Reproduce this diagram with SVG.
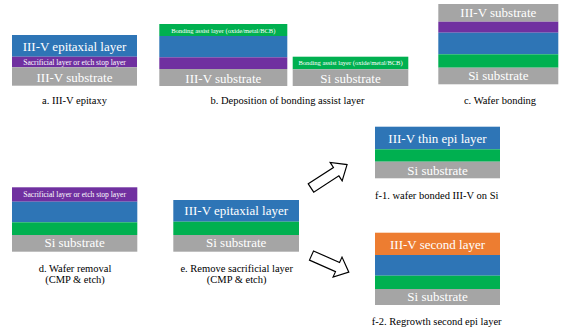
<svg xmlns="http://www.w3.org/2000/svg" width="562" height="333" viewBox="0 0 562 333">
<style>
.bl{fill:#2E75B6}.pu{fill:#7030A0}.gr{fill:#00B050}.gy{fill:#A5A5A5}.or{fill:#ED7D31}
text{font-family:"Liberation Serif","Times New Roman",serif;text-anchor:middle}
.L{font-size:13px;fill:#FFFFFF}
.S{font-size:7.6px;fill:#FFFFFF}
.B{font-size:6.5px;fill:#FFFFFF}
.C{font-size:10.5px;fill:#000000}
.arrow{fill:#FFFFFF;stroke:#000000;stroke-width:1.2;stroke-linejoin:miter}
</style>
<defs>
<polygon id="arr" points="0,-5 30,-5 30,-11 43,0 30,11 30,5 0,5"/>
</defs>
<rect width="562" height="333" fill="#FFFFFF"/>

<g id="panel-a">
<rect class="bl" x="12" y="35" width="125" height="21.7"/>
<rect class="pu" x="12" y="56.7" width="125" height="10.6"/>
<rect class="gy" x="12" y="67.3" width="125" height="18.4"/>
<text class="L" x="74.5" y="50.5">III-V epitaxial layer</text>
<text class="S" x="74.5" y="64.8">Sacrificial layer or etch stop layer</text>
<text class="L" x="74.5" y="82.3">III-V substrate</text>
<text class="C" x="74.5" y="103.8">a. III-V  epitaxy</text>
</g>

<g id="panel-b">
<rect class="gr" x="159.3" y="24" width="128" height="12"/>
<rect class="bl" x="159.3" y="36" width="128" height="21.3"/>
<rect class="pu" x="159.3" y="57.3" width="128" height="11.7"/>
<rect class="gy" x="159.3" y="69" width="128" height="17"/>
<text class="B" x="223.3" y="32.8">Bonding assist layer (oxide/metal/BCB)</text>
<text class="L" x="223.3" y="82.7">III-V substrate</text>
<rect class="gr" x="292.7" y="56.7" width="115.6" height="12.6"/>
<rect class="gy" x="292.7" y="69.3" width="115.6" height="16.7"/>
<text class="B" x="350.5" y="65.3">Bonding assist layer (oxide/metal/BCB)</text>
<text class="L" x="350.5" y="82.7">Si substrate</text>
<text class="C" x="287.5" y="103.8">b. Deposition of bonding assist layer</text>
</g>

<g id="panel-c">
<rect class="gy" x="438.3" y="4" width="120" height="17.7"/>
<rect class="pu" x="438.3" y="21.7" width="120" height="11"/>
<rect class="bl" x="438.3" y="32.7" width="120" height="21.6"/>
<rect class="gr" x="438.3" y="54.3" width="120" height="13.4"/>
<rect class="gy" x="438.3" y="67.7" width="120" height="16.6"/>
<text class="L" x="498.3" y="17">III-V substrate</text>
<text class="L" x="498.3" y="80.3">Si substrate</text>
<text class="C" x="500" y="103.5">c. Wafer bonding</text>
</g>

<g id="panel-d">
<rect class="pu" x="12" y="187.3" width="125.3" height="14.4"/>
<rect class="bl" x="12" y="201.7" width="125.3" height="20.6"/>
<rect class="gr" x="12" y="222.3" width="125.3" height="12.7"/>
<rect class="gy" x="12" y="235" width="125.3" height="16.7"/>
<text class="S" x="74.6" y="197.3">Sacrificial layer or etch stop layer</text>
<text class="L" x="74.6" y="247">Si substrate</text>
<text class="C" x="75" y="271.7">d. Wafer removal</text>
<text class="C" x="75" y="283.2">(CMP &amp; etch)</text>
</g>

<g id="panel-e">
<rect class="bl" x="173.3" y="200" width="125.7" height="21.7"/>
<rect class="gr" x="173.3" y="221.7" width="125.7" height="13.3"/>
<rect class="gy" x="173.3" y="235" width="125.7" height="16.7"/>
<text class="L" x="236.2" y="215.3">III-V epitaxial layer</text>
<text class="L" x="236.2" y="247">Si substrate</text>
<text class="C" x="236.7" y="271.7">e. Remove sacrificial layer</text>
<text class="C" x="236.7" y="283.2">(CMP &amp; etch)</text>
</g>

<g id="panel-f1">
<rect class="bl" x="375" y="126.7" width="125" height="22.6"/>
<rect class="gr" x="375" y="149.3" width="125" height="12.4"/>
<rect class="gy" x="375" y="161.7" width="125" height="16.6"/>
<text class="L" x="437.5" y="143.3">III-V thin epi layer</text>
<text class="L" x="437.5" y="175">Si substrate</text>
<text class="C" x="436.7" y="198.5">f-1. wafer bonded III-V  on Si</text>
</g>

<g id="panel-f2">
<rect class="or" x="375" y="232.7" width="125" height="22.3"/>
<rect class="bl" x="375" y="255" width="125" height="20.7"/>
<rect class="gr" x="375" y="275.7" width="125" height="13.3"/>
<rect class="gy" x="375" y="289" width="125" height="16"/>
<text class="L" x="437.5" y="248.5">III-V second layer</text>
<text class="L" x="437.5" y="301">Si substrate</text>
<text class="C" x="436.7" y="325.3">f-2. Regrowth second epi layer</text>
</g>

<g id="connectors">
<use href="#arr" class="arrow" transform="translate(311,188) rotate(-33)"/>
<use href="#arr" class="arrow" transform="translate(311.5,255.5) rotate(24) scale(0.95,1)"/>
</g>
</svg>
